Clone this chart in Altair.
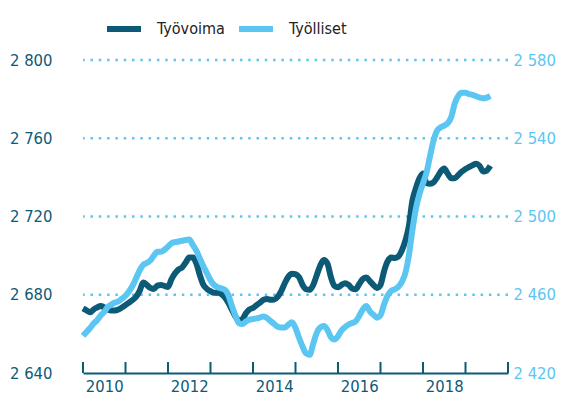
import altair as alt
import pandas as pd

# Monthly values, Jan 2010 .. Aug 2019 (thousands)
tyovoima = [
    2673, 2672, 2671, 2672.5, 2673.5, 2674.3, 2673.5, 2672.5, 2672, 2672, 2672.5, 2673.5,
    2674.7, 2676, 2677.3, 2679, 2682, 2686.3, 2685, 2683.5, 2683, 2684.7, 2685, 2684.5,
    2684, 2688, 2691, 2693, 2694, 2696.5, 2699, 2699, 2696, 2690, 2685, 2683,
    2681.8, 2681, 2681, 2680.5, 2678.8, 2676, 2672.5, 2669, 2667, 2667.5, 2670.5, 2672.5,
    2673.3, 2674.7, 2676, 2677.4, 2677.8, 2677.4, 2677.5, 2679, 2682, 2686, 2689.3, 2690.7,
    2690.5, 2689, 2685, 2682.8, 2682.5, 2685, 2690, 2695, 2697.8, 2696, 2689, 2684.5,
    2683.8, 2685, 2685.9, 2685, 2683.2, 2682.8, 2685.5, 2688, 2688.8, 2687, 2685, 2683.5,
    2685, 2692, 2697, 2699, 2698.8, 2699.5, 2702.5, 2707.5, 2715, 2728, 2734.5, 2739.5,
    2742, 2737, 2736.7, 2737.5, 2740, 2743, 2744.5, 2741.8, 2739.5, 2739.5, 2741.3, 2743,
    2744.3, 2745.3, 2746.2, 2747, 2745.8, 2743, 2743.5, 2745.9,
]
tyolliset = [
    2439, 2441, 2443, 2445.3, 2447, 2449.4, 2451.2, 2453.8, 2455, 2456, 2456.6, 2458,
    2459.5, 2461.8, 2464.6, 2468.5, 2472.5, 2475.3, 2476.2, 2477.5, 2480, 2482, 2482, 2483,
    2484.6, 2486.3, 2486.9, 2487.2, 2487.6, 2488, 2488.2, 2485.5, 2482.5, 2478.5, 2474.5, 2471,
    2467.5, 2465, 2463.8, 2463.3, 2462.6, 2460, 2454.5, 2449.5, 2445.5, 2445, 2446.3, 2447.3,
    2447.6, 2447.9, 2448.4, 2448.9, 2448, 2446.5, 2445, 2443.6, 2443.2, 2443.3, 2444.7, 2446,
    2443, 2438, 2433.5, 2430, 2429.3, 2435, 2440.5, 2443.3, 2444, 2442.1, 2438.3, 2437.1,
    2438.8, 2441.8, 2443.5, 2444.8, 2445.6, 2446.4, 2449.2, 2452.5, 2454.2, 2451.5, 2449.8, 2448.3,
    2449.6, 2455, 2459.5, 2461.9, 2462.8, 2464, 2466.5, 2471, 2480, 2493, 2504, 2511.5,
    2517, 2522.5, 2531, 2539, 2544, 2545.6, 2546.5, 2547.7, 2551, 2558, 2561.8, 2563.2,
    2563.2, 2562.6, 2562.2, 2561.5, 2560.8, 2560.4, 2560.8, 2561.6,
]
series = ["Työvoima", "Työlliset"]
left_ticks = [2640, 2680, 2720, 2760, 2800]
right_ticks = [2420, 2460, 2500, 2540, 2580]
grid_values = [2680, 2720, 2760, 2800]
year_bounds = list(range(2010, 2021))
label_years = [2010.5, 2012.5, 2014.5, 2016.5, 2018.5]

DARK = "#0d5a77"
LIGHT = "#5cc6f2"
FONT = "DejaVu Sans Condensed"

n = len(tyovoima)
t = [2010 + i / 12 for i in range(n)]
df = pd.DataFrame({"t": t, series[0]: tyovoima, series[1]: tyolliset})
long = df.melt("t", var_name="sarja", value_name="arvo")

xscale = alt.Scale(domain=[2010, 2020], nice=False, zero=False)
lscale = alt.Scale(domain=[2640, 2800], nice=False, zero=False)
rscale = alt.Scale(domain=[2420, 2580], nice=False, zero=False)
fmt = "replace(format(datum.value, ','), ',', ' ')"

color = alt.Color(
    "sarja:N",
    scale=alt.Scale(domain=series, range=[DARK, LIGHT]),
    legend=alt.Legend(
        orient="none", legendX=21, legendY=-51, direction="horizontal", title=None,
        symbolType="stroke", symbolSize=1156, symbolStrokeWidth=6,
        labelFontSize=16, labelFont=FONT, labelColor="#222222",
        columnPadding=2, labelOffset=13, padding=0,
    ),
)

xenc = alt.X(
    "t:Q", scale=xscale,
    axis=alt.Axis(
        values=label_years, labelExpr="floor(datum.value)", ticks=False, grid=False,
        domainColor=DARK, domainWidth=2, labelColor=DARK, labelFontSize=16.5,
        labelFont=FONT, labelPadding=5, title=None, labelFlush=False,
    ),
)

grid = alt.Chart(pd.DataFrame({"g": grid_values})).mark_rule(
    color=LIGHT, strokeWidth=2.5, strokeDash=[2.5, 5.8]
).encode(y=alt.Y("g:Q", scale=lscale, axis=None))

ticks = alt.Chart(pd.DataFrame({"yr": year_bounds})).mark_rule(
    color=DARK, strokeWidth=2
).encode(x=alt.X("yr:Q", scale=xscale), y=alt.value(302), y2=alt.value(313))

dark = alt.Chart(long).transform_filter(alt.datum.sarja == series[0]).mark_line(
    strokeWidth=6, interpolate="monotone"
).encode(
    x=xenc,
    y=alt.Y("arvo:Q", scale=lscale, axis=alt.Axis(
        orient="left", values=left_ticks, labelExpr=fmt, grid=False, ticks=False,
        domain=False, labelColor=DARK, labelFontSize=16.5, labelFont=FONT,
        labelPadding=31, title=None)),
    color=color,
)

light = alt.Chart(long).transform_filter(alt.datum.sarja == series[1]).mark_line(
    strokeWidth=6, interpolate="monotone"
).encode(
    x=alt.X("t:Q", scale=xscale),
    y=alt.Y("arvo:Q", scale=rscale, axis=alt.Axis(
        orient="right", values=right_ticks, labelExpr=fmt, grid=False, ticks=False,
        domain=False, labelColor=LIGHT, labelFontSize=16.5, labelFont=FONT,
        labelPadding=5, title=None)),
    color=color,
)

chart = alt.layer(grid, ticks, dark, light).resolve_scale(y="independent").properties(
    width=425, height=313,
    autosize=alt.AutoSizeParams(type="none"),
    padding={"left": 75, "top": 52, "right": 48, "bottom": 22},
).configure_view(stroke=None)

chart.save("out.html", embed_options={"renderer": "svg", "actions": False})
